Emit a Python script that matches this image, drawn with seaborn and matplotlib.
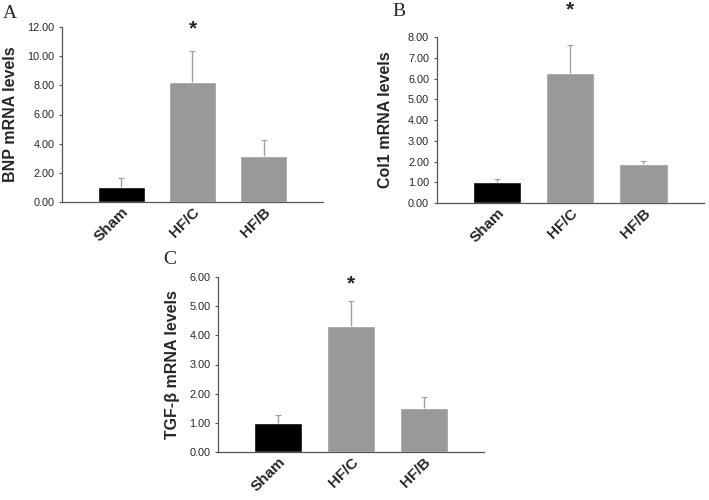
import matplotlib
matplotlib.use('Agg')
import matplotlib.pyplot as plt
import seaborn as sns
import pandas as pd

# group names shared by all three panels
groups = ['Sham', 'HF/C', 'HF/B']

# panel A - BNP
bnp_mean = [1.00, 8.25, 3.15]
bnp_err = [0.62, 2.10, 1.12]
# panel B - Col1
col1_mean = [1.00, 6.28, 1.86]
col1_err = [0.17, 1.35, 0.18]
# panel C - TGF-beta
tgf_mean = [1.00, 4.33, 1.52]
tgf_err = [0.27, 0.84, 0.35]

sns.set_style('white')
plt.rcParams['font.family'] = ['Liberation Sans', 'DejaVu Sans']

fig = plt.figure(figsize=(7.09, 5.0), dpi=100)

panels = [
    # rect, letter, letter pos, ylabel, means, errs, ymax, ystep, ylabel x, star y
    ([0.0875, 0.596, 0.368, 0.350], 'A', (0.004, 0.974), 'BNP mRNA levels',
     bnp_mean, bnp_err, 12, 2, 0.0155, 11.85),
    ([0.616, 0.594, 0.377, 0.332], 'B', (0.553, 0.976), 'Col1 mRNA levels',
     col1_mean, col1_err, 8, 1, 0.544, 9.3),
    ([0.3075, 0.096, 0.375, 0.350], 'C', (0.230, 0.480), 'TGF-\u03b2 mRNA levels',
     tgf_mean, tgf_err, 6, 1, 0.244, 5.76),
]

for rect, letter, lpos, ylab, means, errs, ymax, ystep, ylx, stary in panels:
    ax = fig.add_axes(rect)
    df = pd.DataFrame({'group': groups, 'value': means})
    sns.barplot(data=df, x='group', y='value', hue='group',
                palette=['black', '#999999', '#999999'], width=0.66,
                legend=False, ax=ax, errorbar=None, saturation=1)
    eb = ax.errorbar(range(len(groups)), means, yerr=[[0] * 3, errs], fmt='none',
                     ecolor='#a0a0a0', elinewidth=1, capsize=2.5, capthick=0.8, zorder=1)
    # only the upper cap, like the original
    eb[1][0].set_visible(False)
    ax.set_xlim(-0.83, 2.83)
    ax.set_ylim(0, ymax)
    ticks = [i * ystep for i in range(int(ymax / ystep) + 1)]
    ax.set_yticks(ticks)
    ax.set_yticklabels(['%.2f' % t for t in ticks], fontsize=7.8)
    ax.set_xticks(range(3))
    ax.set_xticklabels(groups, rotation=45, ha='right', rotation_mode='anchor',
                       fontsize=11, fontweight='bold')
    ax.tick_params(axis='x', length=0, pad=2)
    ax.tick_params(axis='y', length=2.5, width=0.8, color='#555555', pad=3, left=True)
    ax.set_xlabel('')
    ax.set_ylabel('')
    fig.text(ylx, rect[1] + rect[3] / 2, ylab, rotation=90, ha='center', va='center',
             fontsize=11.5, fontweight='bold')
    for s in ['top', 'right']:
        ax.spines[s].set_visible(False)
    for s in ['left', 'bottom']:
        ax.spines[s].set_color('#555555')
        ax.spines[s].set_linewidth(0.9)
    # significance star over HF/C
    ax.text(1, stary, '*', ha='center', va='center', fontsize=15,
            fontweight='bold', clip_on=False)
    fig.text(lpos[0], lpos[1], letter, fontsize=14, family='Liberation Serif',
             ha='left', va='center')

fig.savefig('out.png', dpi=100)
